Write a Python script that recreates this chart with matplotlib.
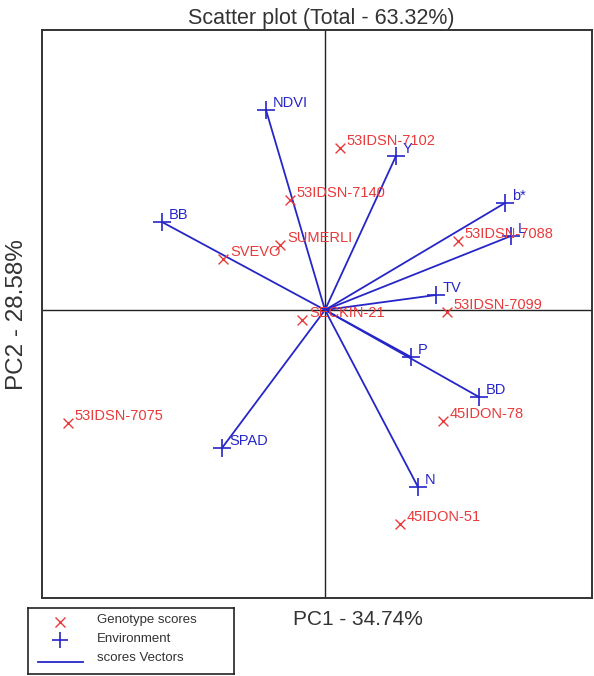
import matplotlib
matplotlib.use("Agg")
import matplotlib.pyplot as plt

plt.rcParams["font.family"] = ["Liberation Sans", "DejaVu Sans"]

# ---- data (PC1, PC2) ----
genotypes = ["53IDSN-7102", "53IDSN-7140", "SUMERLI", "SVEVO", "SECKIN-21",
             "53IDSN-7088", "53IDSN-7099", "45IDON-78", "53IDSN-7075", "45IDON-51"]
geno_pc1 = [0.15, -0.35, -0.45, -1.02, -0.23, 1.33, 1.22, 1.18, -2.57, 0.75]
geno_pc2 = [1.62, 1.10, 0.65, 0.51, -0.10, 0.69, -0.02, -1.11, -1.13, -2.14]

traits = ["NDVI", "Y", "BB", "b*", "L", "TV", "P", "BD", "SPAD", "N"]
trait_pc1 = [-0.59, 0.71, -1.63, 1.80, 1.86, 1.11, 0.86, 1.54, -1.03, 0.93]
trait_pc2 = [2.00, 1.54, 0.88, 1.07, 0.74, 0.15, -0.47, -0.87, -1.38, -1.77]

legend_labels = ["Genotype scores", "Environment", "scores Vectors"]

RED = "#e83a3a"
BLUE = "#2626c8"
TXT = "#333333"

fig = plt.figure(figsize=(5.94, 6.76), dpi=100)
ax = fig.add_axes([42 / 594, 78 / 676, 550 / 594, 568 / 676])
ax.set_xlim(-2.83, 2.67)
ax.set_ylim(-2.88, 2.80)
ax.set_xticks([])
ax.set_yticks([])
for s in ax.spines.values():
    s.set_color("#333333")
    s.set_linewidth(1.4)

ax.axhline(0, color="#222222", linewidth=1.0, zorder=1)
ax.axvline(0, color="#222222", linewidth=1.0, zorder=1)

# environment vectors
for x, y in zip(trait_pc1, trait_pc2):
    ax.plot([0, x], [0, y], color=BLUE, linewidth=1.3, zorder=2)
ax.scatter(trait_pc1, trait_pc2, marker="+", s=160, color=BLUE,
           linewidths=1.2, zorder=3)
for name, x, y in zip(traits, trait_pc1, trait_pc2):
    ax.annotate(name, (x, y), xytext=(5, 2), textcoords="offset points",
                color=BLUE, fontsize=10.5, zorder=4)

# genotype scores
ax.scatter(geno_pc1, geno_pc2, marker="x", s=50, color=RED,
           linewidths=1.0, zorder=3)
for name, x, y in zip(genotypes, geno_pc1, geno_pc2):
    ax.annotate(name, (x, y), xytext=(5, 2), textcoords="offset points",
                color=RED, fontsize=10.5, zorder=4)

fig.text(0.54, 0.973, "Scatter plot (Total - 63.32%)", ha="center",
         va="center", fontsize=15.5, color=TXT)
fig.text(0.028, 0.535, "PC2 - 28.58%", rotation=90, ha="center",
         va="center", fontsize=17.5, color=TXT)
fig.text(0.603, 0.083, "PC1 - 34.74%", ha="center", va="center",
         fontsize=15, color=TXT)

# ---- legend box (drawn in its own pixel-unit axes) ----
lax = fig.add_axes([28 / 594, 2 / 676, 206 / 594, 66 / 676])
lax.set_xlim(0, 206)
lax.set_ylim(66, 0)
lax.set_xticks([])
lax.set_yticks([])
for s in lax.spines.values():
    s.set_color("#222222")
    s.set_linewidth(1.2)
lax.plot([32], [14], linestyle="none", marker="x", color=RED,
         markersize=7, markeredgewidth=1.0)
lax.plot([32], [32], linestyle="none", marker="+", color=BLUE,
         markersize=12, markeredgewidth=1.2)
lax.plot([10, 55], [54, 54], color=BLUE, linewidth=1.3)
for i, lab in enumerate(legend_labels):
    lax.text(69, 12 + i * 19, lab, fontsize=9.5, color=TXT, va="center")

fig.savefig("out.png", dpi=100)
